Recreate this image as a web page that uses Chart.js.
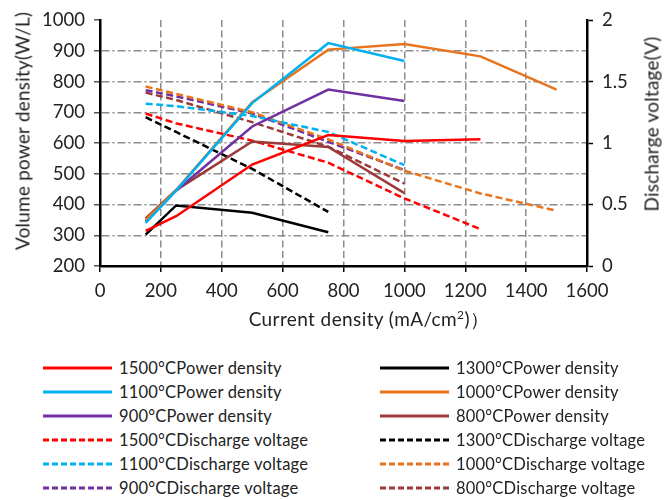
<!DOCTYPE html>
<html>
<head>
<meta charset="utf-8">
<script src="https://cdn.jsdelivr.net/npm/chart.js@4/dist/chart.umd.min.js"></script>
<style>
  body { margin: 0; background: #fff; font-family: Lato, "Open Sans", sans-serif; color: #222; }
  #wrap { position: relative; width: 666px; height: 500px; overflow: hidden; }
  #chart { position: absolute; left: 0; top: 0; }
  .title { position: absolute; white-space: nowrap; font-size: 19px; letter-spacing: 0.4px; transform: translate(-50%, -50%); }
  .title.rot { letter-spacing: 0.2px; transform: translate(-50%, -50%) rotate(-90deg); }
  .leg { position: absolute; display: flex; align-items: center; font-size: 16.5px; letter-spacing: 0.2px; white-space: nowrap; }
  .leg svg { margin-right: 7px; }
</style>
</head>
<body>
<div id="wrap">
  <canvas id="chart" width="666" height="345"></canvas>
  <div class="title rot" style="left:22px; top:131px;">Volume power density(W/L)</div>
  <div class="title rot" style="left:651px; top:124px;">Discharge voltage(V)</div>
  <div class="title" style="left:369px; top:320px;">Current density (mA/cm<sup style="font-size:12px">2</sup>)）</div>
  <div id="legend"></div>
</div>
<script>
// current density (mA/cm2) where the measurements were taken
const currentPoints = [150, 250, 500, 750, 1000, 1250, 1500];

// power density, W/L (left axis)
const power1500 = [314, 362, 530, 626, 607, 612];
const power1300 = [302, 397, 373, 310];
const power1100 = [340, 445, 730, 925, 867];
const power1000 = [350, 447, 733, 904, 922, 882, 774];
const power900 = [345, 445, 654, 774, 737];
const power800 = [355, 447, 605, 587, 437];

// discharge voltage, V (right axis)
const volt1500 = [1.24, 1.16, 1.02, 0.84, 0.55, 0.3];
const volt1300 = [1.21, 1.09, 0.79, 0.44];
const volt1100 = [1.32, 1.3, 1.22, 1.09, 0.82];
const volt1000 = [1.46, 1.4, 1.25, 1.03, 0.775, 0.59, 0.45];
const volt900 = [1.43, 1.38, 1.24, 1.01, 0.78];
const volt800 = [1.41, 1.35, 1.17, 0.97, 0.67];

const xTicks = [0, 200, 400, 600, 800, 1000, 1200, 1400, 1600];

const COLORS = {
  1500: "#ff0000",
  1300: "#000000",
  1100: "#00b0f0",
  1000: "#e8731c",
  900: "#7030a0",
  800: "#9b3a38",
};

function points(values) {
  return values.map((v, i) => ({ x: currentPoints[i], y: v }));
}

function line(label, values, color, dashed) {
  return {
    label: label,
    data: points(values),
    borderColor: color,
    backgroundColor: color,
    borderWidth: 2.5,
    borderDash: dashed ? [7, 3.5] : [],
    pointRadius: 0,
    tension: 0,
    yAxisID: dashed ? "y1" : "y",
  };
}

// row-major order, two legend columns
const datasets = [
  line("1500°CPower density", power1500, COLORS[1500], false),
  line("1300°CPower density", power1300, COLORS[1300], false),
  line("1100°CPower density", power1100, COLORS[1100], false),
  line("1000°CPower density", power1000, COLORS[1000], false),
  line("900°CPower density", power900, COLORS[900], false),
  line("800°CPower density", power800, COLORS[800], false),
  line("1500°CDischarge voltage", volt1500, COLORS[1500], true),
  line("1300°CDischarge voltage", volt1300, COLORS[1300], true),
  line("1100°CDischarge voltage", volt1100, COLORS[1100], true),
  line("1000°CDischarge voltage", volt1000, COLORS[1000], true),
  line("900°CDischarge voltage", volt900, COLORS[900], true),
  line("800°CDischarge voltage", volt800, COLORS[800], true),
];

const tickFont = { family: "Lato", size: 18.5 };
const gridGray = "#8c8c8c";
const plain = (v) => String(v);

const chart = new Chart(document.getElementById("chart"), {
  type: "line",
  data: { datasets: datasets },
  options: {
    responsive: false,
    animation: false,
    devicePixelRatio: 1,
    layout: { padding: { top: 13, left: 0, right: 0, bottom: 0 } },
    plugins: { legend: { display: false }, tooltip: { enabled: false } },
    scales: {
      x: {
        type: "linear",
        min: 0,
        max: 1600,
        afterBuildTicks: (s) => { s.ticks = xTicks.map((v) => ({ value: v })); },
        afterFit: (s) => { s.height = 79; },
        ticks: { font: tickFont, color: "#222", padding: 8, maxRotation: 0, callback: plain },
        grid: { color: gridGray, lineWidth: 1.5, tickLength: 6, tickColor: "#000", tickWidth: 1.5 },
        border: { color: "#000", width: 2.5, dash: [7, 3.5] },
      },
      y: {
        position: "left",
        min: 200,
        max: 1000,
        afterFit: (s) => { s.width = 100; },
        ticks: { stepSize: 100, font: tickFont, color: "#222", padding: 9, callback: plain },
        grid: {
          color: (ctx) => (ctx.tick && (ctx.tick.value === 1000 || ctx.tick.value === 200) ? "rgba(0,0,0,0)" : gridGray),
          lineWidth: 1.5,
          tickLength: 6,
          tickColor: "#555",
          tickWidth: 1.5,
        },
        border: { color: "#000", width: 2.5, dash: [8, 3, 2, 3] },
      },
      y1: {
        position: "right",
        min: 0,
        max: 2,
        afterFit: (s) => { s.width = 79; },
        ticks: { stepSize: 0.5, font: tickFont, color: "#222", padding: 9, callback: plain },
        grid: { drawOnChartArea: false, tickLength: 6, tickColor: "#000", tickWidth: 1.5 },
        border: { color: "#000", width: 2.5 },
      },
    },
  },
});

function buildLegend() {
  const box = document.getElementById("legend");
  const rowY = [368, 392, 416, 440, 464, 488];
  const colX = [43, 380];
  chart.data.datasets.forEach((ds, i) => {
    const item = document.createElement("div");
    item.className = "leg";
    item.style.left = colX[i % 2] + "px";
    item.style.top = rowY[Math.floor(i / 2)] - 12 + "px";
    item.style.height = "24px";
    const dash = ds.borderDash.length ? 'stroke-dasharray="6 3"' : "";
    item.innerHTML =
      `<svg width="69" height="6"><line x1="0" y1="3" x2="69" y2="3" stroke="${ds.borderColor}" stroke-width="3" ${dash}/></svg>` +
      `<span>${ds.label}</span>`;
    box.appendChild(item);
  });
}

buildLegend();
</script>
</body>
</html>
